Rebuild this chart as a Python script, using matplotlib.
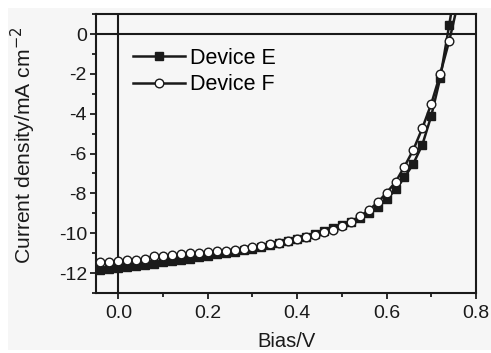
import matplotlib
matplotlib.use('Agg')
import matplotlib.pyplot as plt
from matplotlib.patches import Rectangle
from matplotlib.ticker import MultipleLocator

plt.rcParams['font.family'] = ['Liberation Sans', 'DejaVu Sans']
plt.rcParams['axes.unicode_minus'] = False

# bias (V) and current density (mA cm-2)
bias = [-0.04, -0.02, 0.00, 0.02, 0.04, 0.06, 0.08, 0.10, 0.12, 0.14,
        0.16, 0.18, 0.20, 0.22, 0.24, 0.26, 0.28, 0.30, 0.32, 0.34,
        0.36, 0.38, 0.40, 0.42, 0.44, 0.46, 0.48, 0.50, 0.52, 0.54,
        0.56, 0.58, 0.60, 0.62, 0.64, 0.66, 0.68, 0.70, 0.72, 0.74, 0.76]
dev_e = [-11.85, -11.80, -11.75, -11.70, -11.65, -11.60, -11.52, -11.45, -11.40, -11.33,
         -11.27, -11.20, -11.13, -11.06, -10.99, -10.92, -10.85, -10.77, -10.68, -10.58,
         -10.48, -10.38, -10.28, -10.17, -10.05, -9.90, -9.75, -9.60, -9.45, -9.25,
         -9.00, -8.70, -8.30, -7.80, -7.20, -6.50, -5.55, -4.10, -2.20, 0.45, 3.2]
dev_f = [-11.45, -11.42, -11.38, -11.36, -11.33, -11.30, -11.15, -11.12, -11.08, -11.05,
         -11.00, -10.98, -10.95, -10.90, -10.87, -10.82, -10.77, -10.70, -10.63, -10.55,
         -10.47, -10.38, -10.28, -10.18, -10.07, -9.95, -9.82, -9.65, -9.45, -9.15,
         -8.85, -8.45, -7.97, -7.43, -6.65, -5.80, -4.72, -3.50, -2.00, -0.35, 1.6]

bg = '#f6f6f6'
ink = '#1a1a1a'

fig = plt.figure(figsize=(4.91, 3.53), dpi=100, facecolor='white')
# grey panel with a thin white border like the scanned figure
fig.patches.append(Rectangle((8 / 491, 3 / 353), 1, 1 - 11 / 353,
                             transform=fig.transFigure, facecolor=bg,
                             edgecolor='none', zorder=-10))
ax = fig.add_axes([0.1955, 0.17, 0.774, 0.79], facecolor=bg)

ax.axhline(0, color=ink, lw=1.5, zorder=1)
ax.axvline(0, color=ink, lw=1.5, zorder=1)

ax.plot(bias, dev_e, '-s', color=ink, lw=1.8, ms=5.5, mfc=ink, mec=ink,
        label='Device E', zorder=3)
ax.plot(bias, dev_f, '-o', color=ink, lw=1.8, ms=6.2, mfc='white', mec=ink,
        mew=1.0, label='Device F', zorder=4)

ax.set_xlim(-0.05, 0.8)
ax.set_ylim(-13, 1)
ax.xaxis.set_major_locator(MultipleLocator(0.2))
ax.xaxis.set_minor_locator(MultipleLocator(0.1))
ax.yaxis.set_major_locator(MultipleLocator(2))
ax.yaxis.set_minor_locator(MultipleLocator(1))
ax.xaxis.set_major_formatter(plt.FuncFormatter(lambda v, p: '%.1f' % v))

ax.tick_params(which='both', direction='out', colors=ink, labelsize=14,
               top=False, right=False, width=1.3)
ax.tick_params(which='major', length=4.5)
ax.tick_params(which='minor', length=3)
ax.tick_params(axis='y', pad=2)
ax.tick_params(axis='x', pad=4)
for s in ax.spines.values():
    s.set_linewidth(1.5)
    s.set_color(ink)

ax.set_xlabel('Bias/V', fontsize=14.5, color=ink)
ax.xaxis.set_label_coords(0.5, -0.14)
ax.set_ylabel('Current density/mA cm$^{-2}$', fontsize=15.2, color=ink)
ax.yaxis.set_label_coords(-0.153, 0.529)

ax.legend(loc='upper left', bbox_to_anchor=(0.075, 0.91), frameon=False,
          fontsize=15.5, handlelength=2.4, handletextpad=0.25, labelspacing=0.25,
          borderaxespad=0)

fig.savefig('out.png', dpi=100, facecolor='white')
